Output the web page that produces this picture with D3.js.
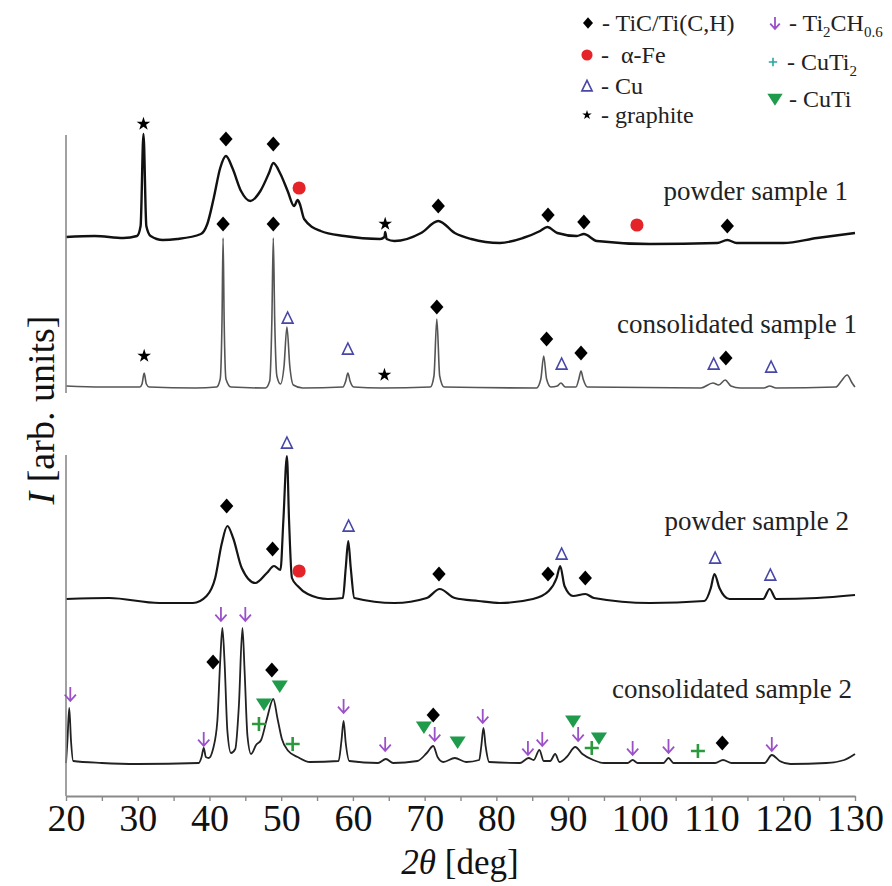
<!DOCTYPE html>
<html>
<head>
<meta charset="utf-8">
<script src="https://cdn.jsdelivr.net/npm/d3@7"></script>
<style>
body { margin: 0; background: #fff; }
text { font-family: "Liberation Serif", "Times New Roman", serif; }
</style>
</head>
<body>
<div id="chart"></div>
<script>
// XRD patterns, [2theta (deg), intensity (arb. units, stacking offset included)]
var powder1 = [[20,559],[24,560],[28,558],[29.9,560],[30.4,570],[30.8,662],[31.2,570],[31.8,560],[33.5,556],[35.5,557],
  [38.8,562],[39.7,572],[40.6,598],[41.5,628],[42.3,640],[43.2,628],[44.4,605],[45.7,595],[47.1,605],[48.3,623],
  [48.9,633],[49.9,622],[50.9,605],[51.8,590],[52.3,596],[52.6,592],[53.2,577],[55.5,565],[58.8,560],[63.8,557],
  [64.4,559],[64.5,564],[64.7,557],[65.8,555],[69.5,563],[71.9,575],[74.2,563],[76.5,557],[80.5,553],[83.7,558],
  [86.1,565],[87.1,569],[88.5,563],[91.2,560],[92.2,562],[94,555],[101.4,552],[110.8,553],[112.2,556],[113.5,553],
  [120,553],[124.7,558],[130,563]];

var consolidated1 = [[20,410],[25,409],[30.3,409],[30.6,412],[30.9,423],[31.2,412],[31.6,409],[38,408],[41,409],
  [41.5,417],[41.75,475],[41.9,558],[42.05,475],[42.3,417],[43,409],[47.8,408],[48.4,415],[48.7,475],[48.9,558],
  [49.1,475],[49.4,420],[49.9,412],[50.4,430],[50.8,469],[51.2,430],[51.7,411],[53,408],[58.6,409],[59,415],
  [59.3,423],[59.6,415],[60.1,409],[64,408],[70.8,409],[71.3,420],[71.7,477],[72.1,420],[72.7,409],[85.6,408],
  [86.2,417],[86.6,440],[87,417],[87.6,409],[88.5,410],[89,413],[89.6,409],[91.1,409],[91.5,417],[91.8,425],
  [92.1,417],[92.7,409],[108.5,408],[110.2,413],[111,411],[111.9,416],[112.7,410],[114,408],[117.3,408],
  [118.1,410],[119,408],[127.3,409],[128.1,415],[128.9,421],[129.6,413],[130,409]];

var powder2 = [[20,197],[26,198],[33,193],[37.7,193],[39.6,200],[40.8,218],[41.7,252],[42.5,270],[43.3,258],
  [44.5,228],[46.4,213],[48,223],[49,230],[49.9,226],[50.3,275],[50.8,340],[51.1,275],[51.5,218],[52.3,210],
  [53.7,202],[56.5,197],[58.6,198],[59,228],[59.35,255],[59.7,228],[60.2,198],[65.8,193],[70.3,198],[72.1,207],
  [74.2,198],[77.5,195],[80.5,193],[85.1,197],[87.3,205],[88.4,218],[88.9,230],[89.5,210],[90.7,200],[92.4,202],
  [93.6,198],[101.4,193],[109,195],[109.9,208],[110.4,222],[111.1,208],[112.5,197],[117.2,197],[118.1,207],
  [119,197],[124.7,198],[130,201]];

var consolidated2 = [[20,33],[20.2,55],[20.45,88],[20.7,55],[21,35],[25,33],[30,32],[38.5,33],[38.9,39],[39.2,48],
  [39.5,39],[39.9,38],[40.5,47],[41.1,75],[41.5,135],[41.8,168],[42.1,135],[42.5,65],[43,43],[43.6,47],[44.1,90],
  [44.6,168],[44.9,125],[45.3,60],[45.8,42],[46.5,51],[47.2,56],[48,77],[48.9,97],[49.5,77],[50.1,57],[51,45],
  [52.3,39],[54,34],[58,35],[58.4,55],[58.7,75],[59,53],[59.5,35],[63.5,33],[64.6,37],[65.6,33],[69,35],[70.3,43],
  [71.2,50],[71.8,39],[72.6,34],[74.2,38],[75.8,34],[77.6,36],[77.9,50],[78.2,68],[78.5,50],[79,34],[83.3,33],
  [84.5,38],[85.2,36],[86,46],[86.6,35],[87.5,35],[88.2,42],[88.8,34],[89.8,39],[91,49],[92,42],[93.5,36],[95,33],
  [98.3,33],[99,36],[99.7,33],[103.3,33],[104,38],[104.7,33],[110.5,33],[111.6,36],[112.8,33],[117.4,33],
  [118.4,41],[119.5,35],[121,32],[126,33],[128.5,36],[130,42]];

var sampleNames = ["powder sample 1", "consolidated sample 1", "powder sample 2", "consolidated sample 2"];

// phase markers, [2theta, intensity]
var ticMarks = [[42.3,657],[48.9,652],[71.9,590],[87.2,581],[92.2,574],[112.2,570],
  [41.9,572],[48.9,572],[71.7,489],[87.0,457],[91.8,443],[112.0,438],
  [42.4,290],[48.8,247],[72.0,222],[87.2,222],[92.4,218],
  [40.5,134],[48.7,126],[71.2,81],[111.5,53]];
var feMarks = [[52.5,608],[99.6,571],[52.5,225]];
var cuMarks = [[50.9,478],[59.3,447],[89.1,432],[110.3,432],[118.3,429],
  [50.8,353],[59.4,270],[89.1,242],[110.5,238],[118.2,221]];
var graphiteMarks = [[30.8,672],[64.5,572],[30.9,440],[64.4,421]];
var ti2chMarks = [[20.6,102],[39.2,57],[41.6,182],[45.0,182],[58.7,90],[64.5,52],[71.4,62],[78.1,80],
  [84.4,48],[86.4,57],[91.4,62],[99.0,48],[104.0,50],[118.4,52]];
var cuti2Marks = [[46.9,72],[51.6,52],[93.3,48],[108.1,45]];
var cutiMarks = [[47.6,92],[49.8,110],[69.9,69],[74.6,54],[90.7,75],[94.3,58]];

var xTickValues = [20,25,30,35,40,45,50,55,60,65,70,75,80,85,90,95,100,105,110,115,120,125,130];

var width = 892, height = 886;

var svg = d3.select("#chart").append("svg")
    .attr("width", width)
    .attr("height", height)
    .style("background", "#fff");

var xScale = d3.scaleLinear().domain([20, 130]).range([66, 855]);
var yScale = d3.scaleLinear().domain([0, 700]).range([796, 96]);

// custom marker shapes
var diamondType = { draw: function (ctx, size) {
    var r = Math.sqrt(size);
    ctx.moveTo(0, -r * 1.08); ctx.lineTo(r * 0.95, 0); ctx.lineTo(0, r * 1.08); ctx.lineTo(-r * 0.95, 0); ctx.closePath();
}};
var triUpType = { draw: function (ctx, size) {
    var r = Math.sqrt(size);
    ctx.moveTo(0, -r); ctx.lineTo(r * 0.9, r * 0.85); ctx.lineTo(-r * 0.9, r * 0.85); ctx.closePath();
}};
var triDownType = { draw: function (ctx, size) {
    var r = Math.sqrt(size);
    ctx.moveTo(-r * 1.15, -r * 0.8); ctx.lineTo(r * 1.15, -r * 0.8); ctx.lineTo(0, r); ctx.closePath();
}};
var arrowType = { draw: function (ctx, size) {
    var r = Math.sqrt(size);
    ctx.moveTo(0, -r); ctx.lineTo(0, r);
    ctx.moveTo(-r * 0.8, r * 0.1); ctx.lineTo(0, r); ctx.lineTo(r * 0.8, r * 0.1);
}};
var crossType = { draw: function (ctx, size) {
    var r = Math.sqrt(size);
    ctx.moveTo(-r, 0); ctx.lineTo(r, 0); ctx.moveTo(0, -r); ctx.lineTo(0, r);
}};

var phases = [
    { pts: ticMarks, type: diamondType, size: 49, fill: "#000", stroke: "none", sw: 0 },
    { pts: feMarks, type: d3.symbolCircle, size: 135, fill: "#e5242a", stroke: "none", sw: 0 },
    { pts: cuMarks, type: triUpType, size: 36, fill: "none", stroke: "#4747a8", sw: 1.6 },
    { pts: graphiteMarks, type: d3.symbolStar, size: 58, fill: "#000", stroke: "none", sw: 0 },
    { pts: ti2chMarks, type: arrowType, size: 49, fill: "none", stroke: "#9b50c8", sw: 1.8 },
    { pts: cuti2Marks, type: crossType, size: 49, fill: "none", stroke: "#2c9a3c", sw: 2.6 },
    { pts: cutiMarks, type: triDownType, size: 49, fill: "#1f9b4b", stroke: "none", sw: 0 }
];

// traces
var traces = [
    { data: powder1, color: "#111", sw: 2.4 },
    { data: consolidated1, color: "#555", sw: 1.6 },
    { data: powder2, color: "#151515", sw: 2.2 },
    { data: consolidated2, color: "#222", sw: 1.8 }
];

var line = d3.line()
    .x(function (d) { return xScale(d[0]); })
    .y(function (d) { return yScale(d[1]); })
    .curve(d3.curveMonotoneX);

svg.selectAll("path.trace")
    .data(traces).enter().append("path")
    .attr("class", "trace")
    .attr("d", function (d) { return line(d.data); })
    .attr("fill", "none")
    .attr("stroke", function (d) { return d.color; })
    .attr("stroke-width", function (d) { return d.sw; })
    .attr("stroke-linejoin", "round");

// left axis, drawn in two pieces
var ySegments = [[661, 403], [341, 0]];
svg.selectAll("line.yseg")
    .data(ySegments).enter().append("line")
    .attr("class", "yseg")
    .attr("x1", xScale(20)).attr("x2", xScale(20))
    .attr("y1", function (d) { return yScale(d[0]); })
    .attr("y2", function (d) { return yScale(d[1]); })
    .attr("stroke", "#8a8a8a")
    .attr("stroke-width", 1.6);

// bottom axis
var xAxis = d3.axisBottom(xScale)
    .tickValues(xTickValues)
    .tickSize(5)
    .tickSizeOuter(0)
    .tickPadding(3)
    .tickFormat(function (d) { return d % 10 === 0 ? d : ""; });

var gx = svg.append("g")
    .attr("transform", "translate(0," + yScale(0) + ")")
    .call(xAxis);
gx.select(".domain").attr("stroke", "#8a8a8a").attr("stroke-width", 1.8);
gx.selectAll(".tick line").attr("stroke", "#8a8a8a").attr("stroke-width", 1.4);
gx.selectAll(".tick text")
    .attr("font-family", "'Liberation Serif', 'Times New Roman', serif")
    .attr("font-size", 38)
    .attr("fill", "#111");

// markers
phases.forEach(function (p) {
    svg.append("g").selectAll("path")
        .data(p.pts).enter().append("path")
        .attr("transform", function (d) { return "translate(" + xScale(d[0]) + "," + yScale(d[1]) + ")"; })
        .attr("d", d3.symbol().type(p.type).size(p.size))
        .attr("fill", p.fill)
        .attr("stroke", p.stroke)
        .attr("stroke-width", p.sw);
});

// sample names
var labelPos = [[848, 200], [857, 333], [849, 530], [852, 698]];
svg.selectAll("text.sample")
    .data(sampleNames).enter().append("text")
    .attr("class", "sample")
    .attr("x", function (d, i) { return labelPos[i][0]; })
    .attr("y", function (d, i) { return labelPos[i][1]; })
    .attr("text-anchor", "end")
    .attr("font-size", 27)
    .attr("fill", "#222")
    .text(function (d) { return d; });

// axis titles
var xt = svg.append("text")
    .attr("x", 460).attr("y", 874)
    .attr("text-anchor", "middle")
    .attr("font-size", 35)
    .attr("fill", "#111");
xt.append("tspan").attr("font-style", "italic").text("2\u03b8");
xt.append("tspan").text(" [deg]");

var yt = svg.append("text")
    .attr("transform", "translate(54,410) rotate(-90)")
    .attr("text-anchor", "middle")
    .attr("font-size", 38)
    .attr("fill", "#111");
yt.append("tspan").attr("font-style", "italic").text("I");
yt.append("tspan").text(" [arb. units]");

// legend
var legendItems = [
    { phase: 0, x: 588, y: 23, scale: 0.75, parts: [["- TiC/Ti(C,H)", 0]] },
    { phase: 1, x: 587, y: 55, scale: 0.85, parts: [["-\u00a0 \u03b1-Fe", 0]] },
    { phase: 2, x: 587, y: 86, scale: 0.95, parts: [["- Cu", 0]] },
    { phase: 3, x: 587, y: 115, scale: 0.7, parts: [["- graphite", 0]] },
    { phase: 4, x: 775, y: 23, scale: 0.85, parts: [["- Ti", 0], ["2", 1], ["CH", 0], ["0.6", 1]] },
    { phase: 5, x: 773, y: 62, scale: 0.6, parts: [["- CuTi", 0], ["2", 1]], stroke: "#2aa6a0", sw: 1.6 },
    { phase: 6, x: 775, y: 99, scale: 0.95, parts: [["- CuTi", 0]] }
];

var lg = svg.append("g");
legendItems.forEach(function (it) {
    var p = phases[it.phase];
    lg.append("path")
        .attr("transform", "translate(" + it.x + "," + it.y + ")")
        .attr("d", d3.symbol().type(p.type).size(p.size * it.scale * it.scale))
        .attr("fill", p.fill)
        .attr("stroke", it.stroke || p.stroke)
        .attr("stroke-width", it.sw || p.sw);
    var t = lg.append("text")
        .attr("x", it.x + 14)
        .attr("y", it.y + 8)
        .attr("font-size", 24)
        .attr("fill", "#222");
    var sub = false;
    it.parts.forEach(function (pt) {
        var s = t.append("tspan").text(pt[0]);
        if (pt[1] && !sub) { s.attr("dy", 6).attr("font-size", 15); sub = true; }
        else if (!pt[1] && sub) { s.attr("dy", -6); sub = false; }
        else if (pt[1]) { s.attr("font-size", 15); }
    });
});
</script>
</body>
</html>
